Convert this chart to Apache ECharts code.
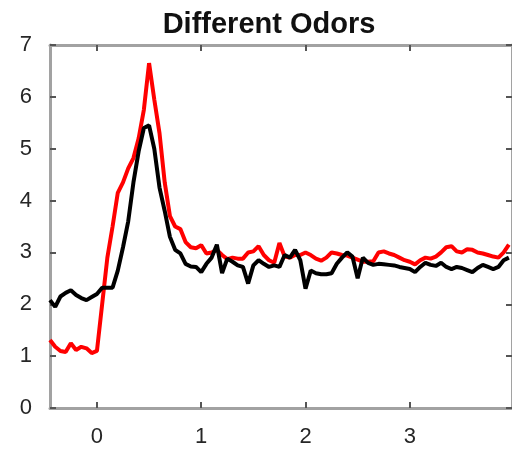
<!DOCTYPE html>
<html>
<head>
<meta charset="utf-8">
<script src="https://cdn.jsdelivr.net/npm/echarts@6/dist/echarts.min.js"></script>
<style>html,body{margin:0;padding:0;background:#fff}#c{width:512px;height:450px}</style>
</head>
<body>
<div id="c"></div>
<script>
const titleText = 'Different Odors';
const xTicks = [0, 1, 2, 3];
const yTicks = [0, 1, 2, 3, 4, 5, 6, 7];
const times = [-0.45,-0.40,-0.35,-0.30,-0.25,-0.20,-0.15,-0.10,-0.05,0.00,
 0.05,0.10,0.15,0.20,0.25,0.30,0.35,0.40,0.45,0.50,
 0.55,0.60,0.65,0.70,0.75,0.80,0.85,0.90,0.95,1.00,
 1.05,1.10,1.15,1.20,1.25,1.30,1.35,1.40,1.45,1.50,
 1.55,1.60,1.65,1.70,1.75,1.80,1.85,1.90,1.95,2.00,
 2.05,2.10,2.15,2.20,2.25,2.30,2.35,2.40,2.45,2.50,
 2.55,2.60,2.65,2.70,2.75,2.80,2.85,2.90,2.95,3.00,
 3.05,3.10,3.15,3.20,3.25,3.30,3.35,3.40,3.45,3.50,
 3.55,3.60,3.65,3.70,3.75,3.80,3.85,3.90,3.95];
const redValues = [1.31,1.18,1.10,1.08,1.25,1.12,1.18,1.15,1.06,1.10,
 2.00,2.90,3.50,4.15,4.35,4.62,4.82,5.20,5.75,6.65,
 5.95,5.30,4.35,3.70,3.50,3.45,3.20,3.10,3.08,3.14,
 2.98,3.00,3.05,2.95,2.87,2.90,2.88,2.88,3.00,3.02,
 3.12,2.95,2.85,2.80,3.18,2.92,2.90,2.95,2.95,3.00,
 2.95,2.88,2.84,2.90,3.00,2.98,2.95,2.94,2.90,2.86,
 2.82,2.82,2.83,3.00,3.02,2.98,2.95,2.90,2.85,2.82,
 2.77,2.85,2.90,2.88,2.92,3.00,3.10,3.12,3.02,3.00,
 3.06,3.05,3.00,2.98,2.95,2.92,2.90,3.00,3.15];
const blackValues = [2.08,1.95,2.15,2.22,2.27,2.18,2.12,2.08,2.14,2.20,
 2.32,2.32,2.32,2.65,3.10,3.60,4.35,4.95,5.40,5.45,
 5.00,4.25,3.80,3.30,3.05,2.98,2.78,2.73,2.72,2.62,
 2.78,2.90,3.15,2.60,2.88,2.82,2.75,2.72,2.40,2.75,
 2.85,2.78,2.72,2.75,2.72,2.95,2.90,3.05,2.85,2.30,
 2.65,2.60,2.58,2.58,2.60,2.78,2.90,3.00,2.92,2.50,
 2.90,2.80,2.76,2.78,2.77,2.76,2.75,2.72,2.70,2.68,
 2.62,2.72,2.80,2.76,2.74,2.80,2.72,2.68,2.72,2.70,
 2.66,2.62,2.70,2.76,2.72,2.68,2.72,2.85,2.90];

const chart = echarts.init(document.getElementById('c'), null, {renderer: 'canvas'});
const axisLineStyle = {color: '#a2a2a2', width: 3};
const tickStyle = {color: '#555', width: 2};
const labelStyle = {color: '#262626', fontSize: 22, fontFamily: 'Liberation Sans, Arial, sans-serif'};
const XMIN = -0.45, XMAX = 3.98;
function xAxisDef(pos, showLabel) {
  return {
    type: 'value', position: pos, min: XMIN, max: XMAX,
    axisLine: {show: true, onZero: false, lineStyle: axisLineStyle},
    axisTick: {show: true, inside: true, length: 6, lineStyle: tickStyle, customValues: xTicks},
    axisLabel: Object.assign({show: showLabel, margin: 18, customValues: xTicks}, labelStyle),
    splitLine: {show: false}
  };
}
function yAxisDef(pos, showLabel) {
  return {
    type: 'value', position: pos, min: 0, max: 7, interval: 1,
    axisLine: {show: true, onZero: false, lineStyle: axisLineStyle},
    axisTick: {show: true, inside: true, length: 6, lineStyle: tickStyle},
    axisLabel: Object.assign({show: showLabel, margin: 18}, labelStyle),
    splitLine: {show: false}
  };
}
const pair = (vals) => times.map((t, i) => [t, vals[i]]);
chart.setOption({
  animation: false,
  backgroundColor: '#fff',
  title: {
    text: titleText, left: 264, top: 5, textAlign: 'center',
    textStyle: {fontSize: 29, fontWeight: 'bold', color: '#111', fontFamily: 'Liberation Sans, Arial, sans-serif'}
  },
  grid: {left: 50, top: 45, width: 468, height: 363, containLabel: false},
  xAxis: [xAxisDef('bottom', true), xAxisDef('top', false)],
  yAxis: [yAxisDef('left', true), yAxisDef('right', false)],
  series: [
    {type: 'line', data: pair(redValues), showSymbol: false, symbol: 'none',
     lineStyle: {color: '#ff0000', width: 4}, itemStyle: {color: '#ff0000'}, clip: true},
    {type: 'line', data: pair(blackValues), showSymbol: false, symbol: 'none',
     lineStyle: {color: '#000000', width: 4}, itemStyle: {color: '#000000'}, clip: true}
  ]
});
</script>
</body>
</html>
